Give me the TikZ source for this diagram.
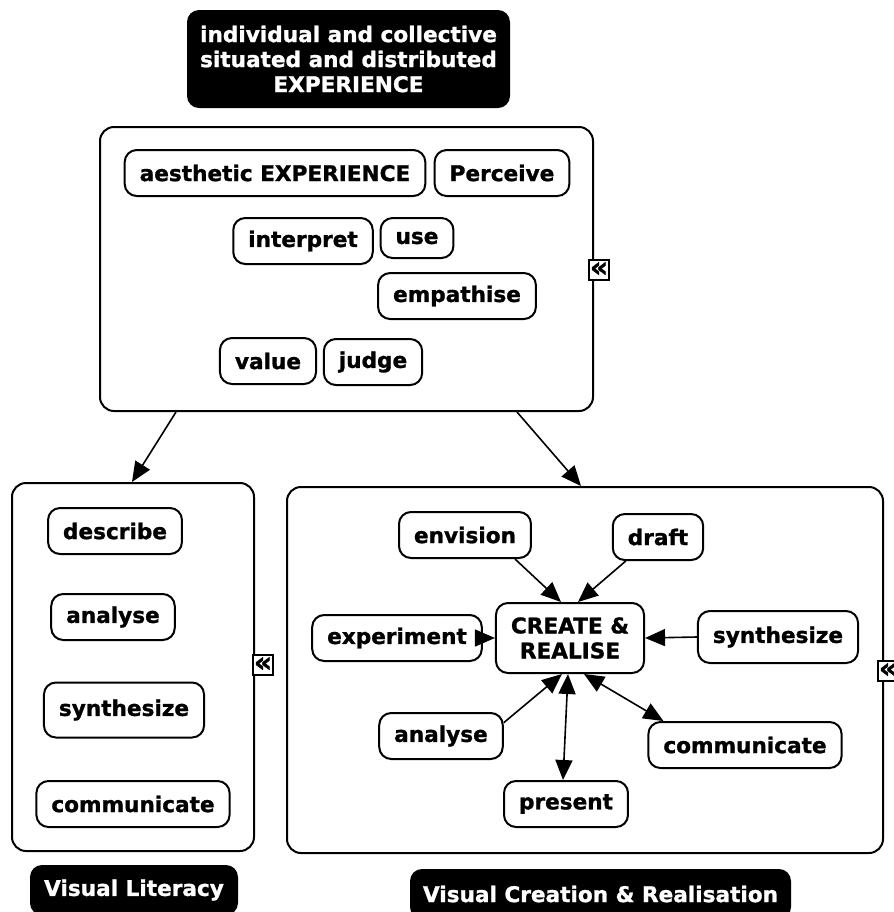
\documentclass[tikz,border=0pt]{standalone}
\usepackage{fontspec}
\setmainfont{DejaVu Sans}[BoldFeatures={FakeBold=1.2}]
\usetikzlibrary{arrows.meta,calc}
\begin{document}
\begin{tikzpicture}[x=0.5pt,y=-0.5pt,
  font=\bfseries\fontsize{10.8}{12.5}\selectfont,
  concept/.style={draw, line width=1pt, rounded corners=6pt, fill=white,
    inner xsep=7.5pt, inner ysep=0pt, minimum height=23pt},
  frame/.style={draw, line width=1pt, rounded corners=7pt, inner sep=0pt},
  banner/.style={fill=black, text=white, rounded corners=6pt, align=center, inner sep=0pt},
  fold/.style={draw, line width=0.7pt, fill=white, minimum size=10pt, inner sep=0pt,
    font=\bfseries\fontsize{14}{14}\selectfont},
  link/.style={line width=0.8pt, -{Triangle[length=10pt,width=8.5pt]}},
  link2/.style={line width=0.8pt,
    {Triangle[length=10pt,width=8.5pt]}-{Triangle[length=10pt,width=8.5pt]}}
]
\useasboundingbox (0,0) rectangle (894,912);

% container frames
\node[frame, minimum width=246.5pt, minimum height=142pt] (expframe) at (346.5,269) {};
\node[frame, minimum width=121pt, minimum height=184pt] (litframe) at (133,667) {};
\node[frame, minimum width=298pt, minimum height=183pt] (creframe) at (585,670) {};

% title banner
\node[banner, minimum width=161.5pt, minimum height=49pt] (exp) at (348.5,59)
  {individual and collective\\situated and distributed\\EXPERIENCE};

% collapse markers
\node[fold] (fold1) at (599,270) {\raisebox{0.5pt}{«}};
\node[fold] (fold2) at (263,665) {\raisebox{0.5pt}{«}};
\node[fold] (fold3) at (888,671) {\raisebox{0.5pt}{«}};

% experience concepts
\node[concept] (ae) at (275,173) {aesthetic EXPERIENCE};
\node[concept] (pe) at (502,173) {Perceive};
\node[concept] (ip) at (303,241) {interpret};
\node[concept, minimum height=20pt] (us) at (417,238) {use};
\node[concept] (em) at (457,296) {empathise};
\node[concept] (va) at (268,361) {value};
\node[concept] (ju) at (373,362) {judge};

% literacy concepts
\node[concept] (de) at (115,531) {describe};
\node[concept] (an1) at (113,617) {analyse};
\node[concept, minimum height=27.5pt] (sy1) at (124,710) {synthesize};
\node[concept] (co1) at (133,804) {communicate};

% creation concepts
\node[concept, minimum width=73.5pt, minimum height=35pt, align=center] (cr) at (570,638)
  {CREATE \&\\REALISE};
\node[concept] (env) at (465,535) {envision};
\node[concept] (dr) at (658,537) {draft};
\node[concept] (ex) at (397,638) {experiment};
\node[concept, minimum height=26pt] (sy2) at (778,637) {synthesize};
\node[concept] (an2) at (441,736) {analyse};
\node[concept] (cm) at (745,745) {communicate};
\node[concept] (pr) at (566,804) {present};

% links between frames
\draw[link] ($(expframe.south west)+(77,0)$) -- ($(litframe.north west)+(121,0)$);
\draw[link] ($(expframe.south west)+(418,0)$) -- ($(creframe.north west)+(295,0)$);

% links around CREATE & REALISE
\draw[link] ($(env.south east)+(-17,0)$) -- ($(cr.north)+(-9,0)$);
\draw[link] ($(dr.south west)+(14,0)$) -- ($(cr.north)+(8,0)$);
\draw[link] (ex.east) -- (cr.west);
\draw[link] (sy2.west) -- (cr.east);
\draw[link] (an2.12) -- ($(cr.south)+(-8,0)$);
\draw[link2] ($(cr.south)+(-2,0)$) -- ($(pr.north)+(-3,0)$);
\draw[link2] ($(cr.south)+(14,0)$) -- ($(cm.north west)+(16,0)$);

% bottom banners
\node[banner, minimum width=104pt, minimum height=25pt] (vl) at (134,890) {Visual Literacy};
\node[banner, minimum width=190.5pt, minimum height=25pt] (vc) at (600.5,894)
  {Visual Creation \& Realisation};
\end{tikzpicture}
\end{document}
